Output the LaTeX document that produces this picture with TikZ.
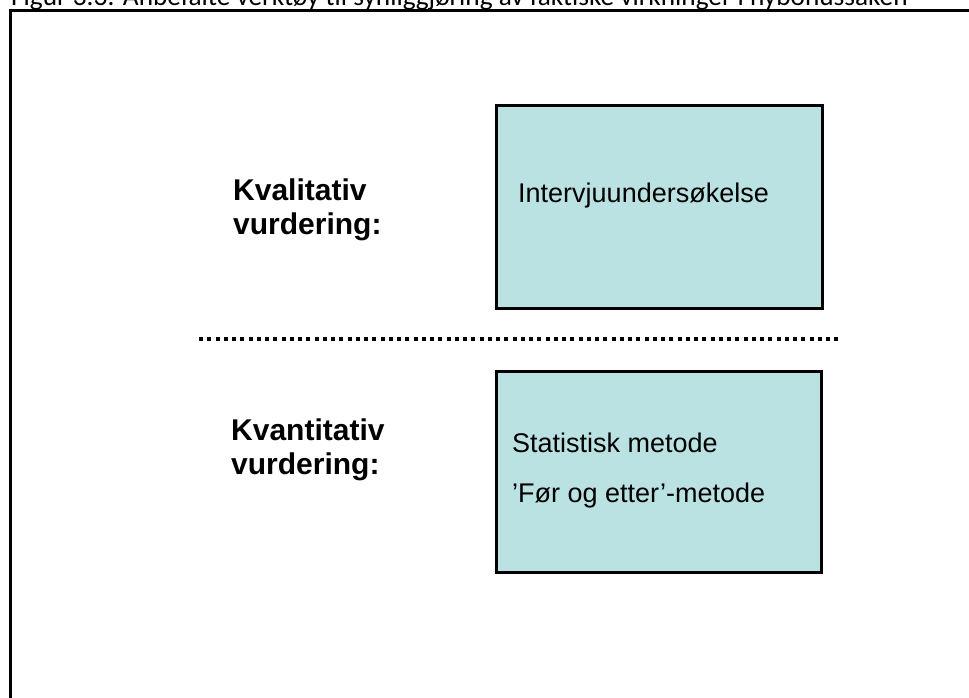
\documentclass[tikz,border=0pt]{standalone}
\usepackage{fontspec}
\setmainfont{Liberation Sans}
\newfontfamily\capfont{Carlito}
\begin{document}
\begin{tikzpicture}[x=1pt,y=-1pt,
  framerule/.style={line width=2.5pt},
  toolbox/.style={draw=black, line width=3pt, fill=boxfill, inner sep=0pt, anchor=north west},
  headlabel/.style={anchor=base west, inner sep=0pt, align=left,
    font=\fontsize{30}{34.5}\selectfont\bfseries},
  boxtext/.style={anchor=base west, inner sep=0pt, font=\fontsize{27}{32}\selectfont},
  separator/.style={line width=4pt, dash pattern=on 4pt off 4.25pt}]
\definecolor{boxfill}{RGB}{186,226,226}
\clip (0,0) rectangle (969,697);
\useasboundingbox (0,0) rectangle (969,697);

% caption, its upper half falls outside the page
\node[anchor=base west, inner sep=0pt, font=\capfont\fontsize{27.3}{32}\selectfont]
  (caption) at (11,5.5) {Figur 3.3: Anbefalte verktøy til synliggjøring av faktiske virkninger i nybonussaken};

% frame
\coordinate (frameBL) at (10.5,700);
\coordinate (frameTL) at (10.5,10.5);
\coordinate (frameTR) at (975,10.5);
\draw[framerule] (frameBL) -- (frameTL) -- (frameTR);

% qualitative part (base anchor sits on the last line)
\node[headlabel] (qualLabel) at (233,234.5) {Kvalitativ\\vurdering:};
\node[toolbox, minimum width=326pt, minimum height=203pt] (qualBox) at (495,104) {};
\node[boxtext] (qualText) at (518,202) {Intervjuundersøkelse};

% dotted separator
\coordinate (sepL) at (199,339);
\coordinate (sepR) at (840,339);
\draw[separator] (sepL) -- (sepR);

% quantitative part
\node[headlabel] (quantLabel) at (231,474.5) {Kvantitativ\\vurdering:};
\node[toolbox, minimum width=325pt, minimum height=201pt] (quantBox) at (495,370) {};
\node[boxtext] (quantTextA) at (512,452) {Statistisk metode};
\node[boxtext] (quantTextB) at (512,502) {’Før og etter’-metode};
\end{tikzpicture}
\end{document}
